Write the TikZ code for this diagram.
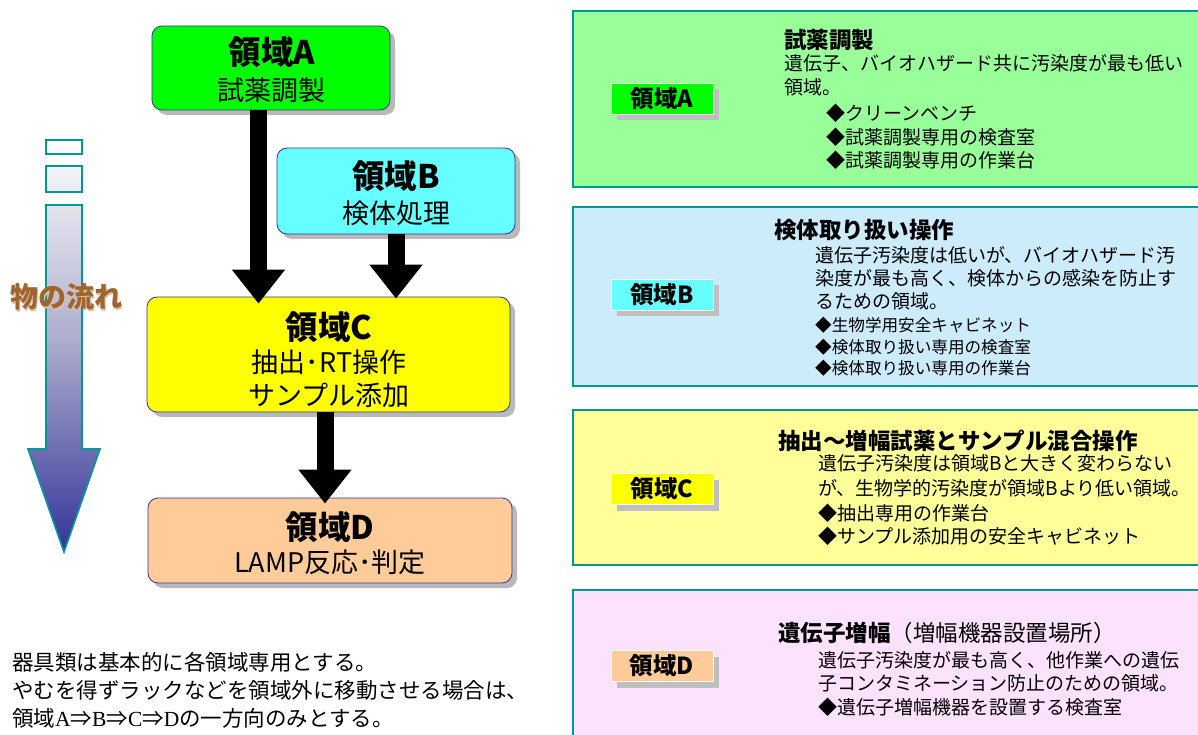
\documentclass[tikz,border=0pt]{standalone}
\usepackage{fontspec}
\setmainfont{Noto Sans CJK JP}
\newfontfamily\tnr{Liberation Serif}
\usetikzlibrary{arrows.meta}
\definecolor{grnA}{HTML}{00FF00}
\definecolor{cyanB}{HTML}{66FFFF}
\definecolor{yelC}{HTML}{FFFF00}
\definecolor{orgD}{HTML}{FFCC99}
\definecolor{panA}{HTML}{99FF99}
\definecolor{panB}{HTML}{CCEBFB}
\definecolor{panC}{HTML}{FFFF99}
\definecolor{panD}{HTML}{FDE2FD}
\definecolor{tealB}{HTML}{009999}
\definecolor{navyB}{HTML}{333399}
\definecolor{brownT}{HTML}{A0642D}
\newcommand{\fs}[1]{\fontsize{#1}{#1}\selectfont}
\tikzset{
  bigbox/.style={draw=navyB, line width=0.8pt, rounded corners=10pt, inner sep=0pt,
    preaction={fill=gray!55, transform canvas={xshift=5pt,yshift=-5pt}}},
  lblbox/.style={draw=white, line width=0.8pt, inner sep=0pt, minimum width=102pt, minimum height=31pt,
    preaction={fill=gray!50, transform canvas={xshift=6pt,yshift=-6pt}}, font=\fs{23.5}\bfseries},
  panel/.style={draw=tealB, line width=2pt, inner sep=0pt},
  ttl/.style={font=\fs{32.5}\bfseries, inner sep=0pt},
  sub/.style={font=\fs{27}, inner sep=0pt},
  ptitle/.style={anchor=west, inner sep=0pt, font=\fs{22.5}\bfseries},
  pbody/.style={anchor=west, inner sep=0pt, font=\fs{19}},
  psmall/.style={anchor=west, inner sep=0pt, font=\fs{16.6}},
  blk/.style={line width=17pt, -{Triangle[length=34pt,width=51pt]}, black},
  note/.style={anchor=west, inner sep=0pt, font=\fs{21.5}}
}
\begin{document}
\begin{tikzpicture}[x=1pt,y=-1pt]
\useasboundingbox (0,0) rectangle (1198,735);
% ---------- left flow boxes
\node[bigbox, fill=grnA, minimum width=238pt, minimum height=84pt] (A) at (271,68) {};
\node[bigbox, fill=cyanB, minimum width=238pt, minimum height=86pt] (B) at (396,191) {};
\node[bigbox, fill=yelC, minimum width=363pt, minimum height=115pt] (C) at (328.5,354.5) {};
\node[bigbox, fill=orgD, minimum width=364pt, minimum height=85pt] (D) at (330,540.5) {};
\node[ttl] (At) at (272,52) {領域A};
\node[sub] (As) at (271,90) {試薬調製};
\node[ttl] (Bt) at (396,176) {領域B};
\node[sub] (Bs) at (396,213) {検体処理};
\node[ttl] (Ct) at (329,327) {領域C};
\node[sub] (Cs1) at (329,362) {抽出･RT操作};
\node[sub] (Cs2) at (329,395) {サンプル添加};
\node[ttl] (Dt) at (330,527) {領域D};
\node[sub] (Ds) at (330,562) {LAMP反応･判定};
% ---------- block arrows
\coordinate (x1) at (258.5,0);
\coordinate (x2) at (396,0);
\coordinate (x3) at (325,0);
\draw[blk] (A.south -| x1) -- ([yshift=-7pt]C.north -| x1);
\draw[blk] (B.south -| x2) -- ([yshift=-2pt]C.north -| x2);
\draw[blk] (C.south -| x3) -- ([yshift=-6pt]D.north -| x3);
% ---------- flow arrow at left
\shade[top color=white, bottom color=navyB, middle color={rgb,255:red,170;green,170;blue,204}]
  (46,140) rectangle (82,154)
  (46,166) rectangle (82,192)
  (46,205) -- (82,205) -- (82,449) -- (100,449) -- (64,552) -- (28,449) -- (46,449) -- cycle;
\draw[tealB, line width=1.6pt]
  (46,140) rectangle (82,154)
  (46,166) rectangle (82,192)
  (46,205) -- (82,205) -- (82,449) -- (100,449) -- (64,552) -- (28,449) -- (46,449) -- cycle;
\node[font=\fs{28}\bfseries, text=brownT!40, inner sep=0pt] (flowsh) at (67.5,298.5) {物の流れ};
\node[font=\fs{28}\bfseries, text=brownT, inner sep=0pt] (flow) at (66,297) {物の流れ};
% ---------- bottom note
\node[note] (n1) at (12,662) {器具類は基本的に各領域専用とする。};
\node[note] (n2) at (12,690) {やむを得ずラックなどを領域外に移動させる場合は、};
\node[note] (n3) at (12,718) {領域{\tnr A}⇒{\tnr B}⇒{\tnr C}⇒{\tnr D}の一方向のみとする。};
% ---------- right panels
\path[panel, fill=panA] (573,11) rectangle (1205,187);
\path[panel, fill=panB] (573,207) rectangle (1205,386);
\path[panel, fill=panC] (573,410) rectangle (1205,565);
\path[panel, fill=panD] (573,590) rectangle (1205,745);
\node[lblbox, fill=grnA] (LA) at (662,98.5) {領域A};
\node[lblbox, fill=cyanB] (LB) at (662,294.5) {領域B};
\node[lblbox, fill=yelC] (LC) at (662,489) {領域C};
\node[lblbox, fill=orgD] (LD) at (662,666) {領域D};
% panel A
\node[ptitle] (a0) at (784,40) {試薬調製};
\node[pbody] (a1) at (784,63) {遺伝子、バイオハザード共に汚染度が最も低い};
\node[pbody] (a2) at (784,87) {領域。};
\node[pbody] (a3) at (826,113) {◆クリーンベンチ};
\node[pbody] (a4) at (826,137) {◆試薬調製専用の検査室};
\node[pbody] (a5) at (826,160) {◆試薬調製専用の作業台};
% panel B
\node[ptitle] (b0) at (774,230) {検体取り扱い操作};
\node[pbody] (b1) at (815,255) {遺伝子汚染度は低いが、バイオハザード汚};
\node[pbody] (b2) at (815,278) {染度が最も高く、検体からの感染を防止す};
\node[pbody] (b3) at (815,301) {るための領域。};
\node[psmall] (b4) at (815,325) {◆生物学用安全キャビネット};
\node[psmall] (b5) at (815,347) {◆検体取り扱い専用の検査室};
\node[psmall] (b6) at (815,368) {◆検体取り扱い専用の作業台};
% panel C
\node[ptitle] (c0) at (778,441) {抽出～増幅試薬とサンプル混合操作};
\node[pbody] (c1) at (818,463) {遺伝子汚染度は領域Bと大きく変わらない};
\node[pbody] (c2) at (818,488) {が、生物学的汚染度が領域Bより低い領域。};
\node[pbody] (c3) at (818,513) {◆抽出専用の作業台};
\node[pbody] (c4) at (818,536) {◆サンプル添加用の安全キャビネット};
% panel D
\node[ptitle] (d0) at (778,633) {遺伝子増幅\mdseries（増幅機器設置場所）};
\node[pbody] (d1) at (818,660) {遺伝子汚染度が最も高く、他作業への遺伝};
\node[pbody] (d2) at (818,683) {子コンタミネーション防止のための領域。};
\node[pbody] (d3) at (818,707) {◆遺伝子増幅機器を設置する検査室};
\end{tikzpicture}
\end{document}
